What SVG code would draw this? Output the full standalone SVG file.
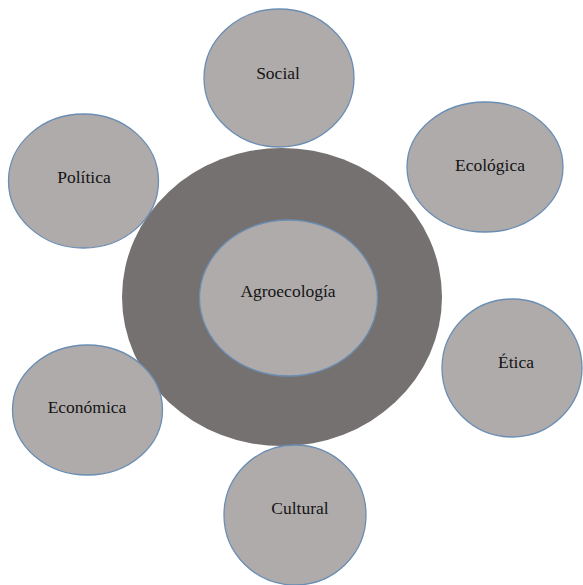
<svg xmlns="http://www.w3.org/2000/svg" width="583" height="585" viewBox="0 0 583 585">
<style>
.n{fill:#afabab;stroke:#6a8db3;stroke-width:1.3}
text{fill:#141414;text-anchor:middle}
</style>
<rect width="583" height="585" fill="#ffffff"/>
<g id="ring"><ellipse cx="282" cy="297" rx="160" ry="149" fill="#767171"/></g>
<g id="connectors"></g>
<g font-family="Liberation Serif, Times New Roman, serif" font-size="17.5">
<g id="agroecologia"><ellipse class="n" cx="288.5" cy="298" rx="89" ry="78"/><text x="288" y="297">Agroecología</text></g>
<g id="social"><ellipse class="n" cx="279" cy="78" rx="75" ry="69"/><text x="278" y="79">Social</text></g>
<g id="politica"><ellipse class="n" cx="83.5" cy="181" rx="75" ry="67"/><text x="84" y="183">Política</text></g>
<g id="ecologica"><ellipse class="n" cx="485" cy="167" rx="78" ry="65"/><text x="490" y="171">Ecológica</text></g>
<g id="etica"><ellipse class="n" cx="512" cy="368" rx="70" ry="69"/><text x="516" y="368">Ética</text></g>
<g id="economica"><ellipse class="n" cx="87.5" cy="410" rx="75" ry="65"/><text x="87" y="413">Económica</text></g>
<g id="cultural"><ellipse class="n" cx="295" cy="515" rx="71" ry="70"/><text x="300" y="514">Cultural</text></g>
</g>
</svg>
